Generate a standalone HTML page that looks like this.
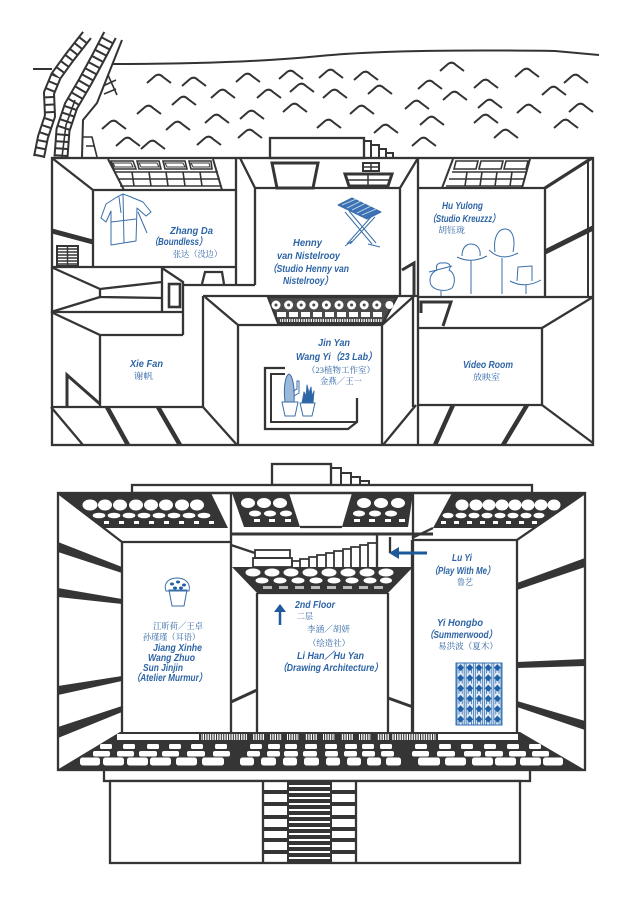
<!DOCTYPE html>
<html><head><meta charset="utf-8">
<style>
html,body{margin:0;padding:0;background:#fff;}
svg{display:block}
.t{font-family:"Liberation Sans",sans-serif;font-style:italic;font-weight:bold;font-size:10px;fill:#2d64a5}
.c{font-family:"Liberation Serif","Noto Serif CJK SC",serif;font-size:8.5px;fill:#2d64a5}
</style></head>
<body>
<svg xmlns="http://www.w3.org/2000/svg" width="640" height="903" viewBox="0 0 640 903">
<defs>
<path id="w" d="M-12,4 L-4,-3 Q0,-6 4,-2 L12,4" fill="none" stroke="#333" stroke-width="2"/>
<pattern id="hat" width="2.4" height="10" patternUnits="userSpaceOnUse"><rect width="2.4" height="10" fill="#fff"/><rect width="1.1" height="10" fill="#333"/></pattern>
<pattern id="dia" x="456" y="663" width="9.2" height="10.3" patternUnits="userSpaceOnUse">
<rect width="9.2" height="10.3" fill="#e6eef8"/>
<path d="M1,0 V10.3 M3,5 V10.3 M6.2,5 V10.3 M8.2,0 V10.3" stroke="#2f6db0" stroke-width="0.8"/>
<path d="M4.6,1 L8,4.6 L4.6,8.2 L1.2,4.6Z" fill="#1f5fa3"/>
</pattern>
</defs>
<rect width="640" height="903" fill="#fff"/>

<!-- horizon -->
<g fill="none" stroke="#333" stroke-width="2">
<path d="M33,69 L52,69"/>
<path d="M113,64 C180,64 260,62 320,56 S480,50 555,51 L599,55"/>
</g>
<!-- waves -->
<g>
<use href="#w" x="159" y="79"/><use href="#w" x="194" y="82"/><use href="#w" x="248" y="78"/><use href="#w" x="291" y="75"/><use href="#w" x="331" y="74"/><use href="#w" x="366" y="76"/><use href="#w" x="452" y="67"/><use href="#w" x="527" y="73"/><use href="#w" x="576" y="79"/>
<use href="#w" x="223" y="94"/><use href="#w" x="269" y="94"/><use href="#w" x="302" y="88"/><use href="#w" x="335" y="94"/><use href="#w" x="380" y="90"/><use href="#w" x="430" y="85"/><use href="#w" x="486" y="84"/><use href="#w" x="554" y="91"/>
<use href="#w" x="149" y="110"/><use href="#w" x="184" y="101"/><use href="#w" x="295" y="108"/><use href="#w" x="362" y="110"/><use href="#w" x="417" y="105"/><use href="#w" x="455" y="96"/><use href="#w" x="490" y="104"/><use href="#w" x="529" y="109"/><use href="#w" x="581" y="108"/>
<use href="#w" x="114" y="125"/><use href="#w" x="178" y="126"/><use href="#w" x="217" y="119"/><use href="#w" x="252" y="115"/><use href="#w" x="329" y="124"/><use href="#w" x="386" y="129"/><use href="#w" x="432" y="121"/><use href="#w" x="486" y="119"/><use href="#w" x="566" y="124"/>
<use href="#w" x="128" y="142"/><use href="#w" x="153" y="145"/><use href="#w" x="209" y="141"/><use href="#w" x="250" y="134"/><use href="#w" x="424" y="142"/><use href="#w" x="506" y="134"/>
</g>
<!-- tree / ladders -->
<g fill="none" stroke-linejoin="round">
<path d="M87,35 L69,58 L56,76 L49,93 L50,116 L43,137 L39,157" stroke="#333" stroke-width="12"/>
<path d="M87,35 L69,58 L56,76 L49,93 L50,116 L43,137 L39,157" stroke="#fff" stroke-width="8" stroke-dasharray="5.5 2"/>
<path d="M110,35 L98,58 L85,82 L71,106 L63,130 L61,157" stroke="#333" stroke-width="15"/>
<path d="M110,35 L98,58 L85,82 L71,106 L63,130 L61,157" stroke="#fff" stroke-width="11" stroke-dasharray="5 2"/>
<path d="M75,100 L66,125 L62,157" stroke="#333" stroke-width="1.6"/>
<path d="M122,40 L97,103 L83,120 L82,157" stroke="#333" stroke-width="2"/>
<path d="M108,75 L117,95 M103,86 L116,80 M104,94 L116,89 M83,137 L92,137 L97,157 M86,146 L95,146" stroke="#333" stroke-width="1.6"/>
</g>

<!-- ============ TOP FLOOR ============ -->
<g fill="none" stroke="#353535" stroke-width="2.3" stroke-linejoin="miter">
<rect x="270" y="138" width="94" height="20" fill="#fff"/>
<path d="M364,141 H371 V158 M371,145 H379 V158 M379,149 H386 V158 M386,153 H393 V158" stroke-width="2"/>
<rect x="52" y="158" width="541" height="287"/>
<!-- left room -->
<path d="M52,158 L93,190 H236"/>
<path d="M93,190 V267"/>
<path d="M52,267 H236"/>
<path d="M236,158 V285"/>
<path d="M52,231 L93,242" stroke-width="5"/>
<rect x="57" y="246" width="21" height="20" stroke-width="2"/>
<path d="M58,249 H77 M58,252 H77 M58,255 H77 M58,258 H77 M58,261 H77 M58,264 H77 M67.5,246 V266" stroke-width="1.4"/>
<!-- left skylight -->
<path d="M108,159 L124,190 M213,159 L222,190" stroke-width="2"/>
<g stroke-width="1.6">
<path d="M111,161 H133 L136,169 H114 Z M137,161 H159 L161,169 H139 Z M163,161 H185 L187,169 H165 Z M189,161 H211 L212,169 H191 Z"/>
<path d="M113,163 H131 L133,167 H115 Z M139,163 H157 L159,167 H141 Z M165,163 H183 L185,167 H167 Z M191,163 H209 L210,167 H193 Z" stroke-width="1"/>
<path d="M115,172 H218 M118,179 H220 M120,186 H221"/>
<path d="M132,172 L134,186 M149,172 L151,186 M166,172 L168,186 M183,172 L185,186 M200,172 L202,186"/>
</g>
<!-- Henny -->
<path d="M240,158 L255,188 H400"/>
<path d="M255,188 V285"/>
<path d="M183,285 H255"/>
<path d="M418,158 L400,188 V296"/>
<path d="M418,158 V445"/>
<path d="M272,163 H318 L313,188 H277 Z" stroke-width="3"/>
<rect x="363" y="163" width="16" height="8" stroke-width="2"/>
<path d="M371,163 V171 M363,167 H379" stroke-width="1.5"/>
<path d="M345,174 H392 L388,186 H349 Z" stroke-width="3"/>
<path d="M347,180 H390 M368,174 V186" stroke-width="1.5"/>
<path d="M402,270 L414,263 V296" stroke-width="3"/>
<!-- Hu room -->
<path d="M592,158 L545,188" stroke-width="3.2"/>
<path d="M545,188 H418"/>
<path d="M545,188 V297"/>
<path d="M588,160 V297" stroke-width="2"/>
<path d="M418,297 H593"/>
<path d="M545,252 L593,228" stroke-width="5"/>
<!-- right skylight -->
<path d="M453,159 L442,188 M530,159 L522,188" stroke-width="2"/>
<g stroke-width="1.6">
<path d="M456,161 H478 L476,169 H454 Z M481,161 H503 L501,169 H479 Z M506,161 H528 L526,169 H504 Z"/>
<path d="M452,172 H527 M449,179 H525 M446,186 H523"/>
<path d="M467,172 L465,186 M482,172 L480,186 M497,172 L495,186 M512,172 L510,186"/>
</g>
<!-- corridor left -->
<path d="M51,267 L100,289 L162,282"/>
<path d="M100,289 V297 L162,298"/>
<path d="M100,297 L51,312"/>
<path d="M51,312 H183"/>
<path d="M51,312 L100,335 H183"/>
<path d="M162,267 V312"/>
<path d="M162,268 L183,282 V335"/>
<rect x="169" y="284" width="11" height="23" stroke-width="2.6"/>
<path d="M202,284 L205,272 H222 L224,284"/>
<path d="M203,296 H418"/>
<path d="M203,296 V407"/>
<!-- Xie Fan -->
<path d="M100,335 V407"/>
<path d="M51,407 H203"/>
<path d="M67,407 V375 L100,404" stroke-width="3"/>
<path d="M51,407 L83,445 M203,407 L237,445"/>
<path d="M107,407 L128,445 M158,407 L180,445" stroke-width="4.5"/>
<!-- Jin Yan -->
<path d="M205,297 L238,325 H382"/>
<path d="M238,325 V445"/>
<path d="M413,297 L382,325 V445"/>
<path d="M413,297 V407 M416,405 L383,445"/>
<!-- lattice -->
<path d="M268,297 H397 L383,323 H278 Z" fill="#4a4a4a"/>
<!-- plant shelf -->
<path d="M285,368 H265 V429 H348 L357,422 V398" stroke-width="2.3"/>
<path d="M285,374 H271 V422 H357" stroke-width="2"/>
<!-- Video -->
<path d="M418,328 H542 V405 H418"/>
<path d="M593,297 L542,328"/>
<path d="M542,405 L593,443"/>
<path d="M453,405 L435,445 M527,405 L503,445" stroke-width="4.5"/>
<path d="M421,313 V302 H451 L443,326" stroke-width="3"/>
</g>
<!-- lattice detail -->
<g fill="#fff">
<circle cx="276" cy="305" r="4.5"/><circle cx="288.6" cy="305" r="4.5"/><circle cx="301.2" cy="305" r="4.5"/><circle cx="313.8" cy="305" r="4.5"/><circle cx="326.4" cy="305" r="4.5"/><circle cx="339" cy="305" r="4.5"/><circle cx="351.6" cy="305" r="4.5"/><circle cx="364.2" cy="305" r="4.5"/><circle cx="376.8" cy="305" r="4.5"/><circle cx="389.4" cy="305" r="4"/>
<rect x="277" y="312" width="9" height="5"/><rect x="289" y="312" width="9" height="5"/><rect x="301" y="312" width="9" height="5"/><rect x="313" y="312" width="9" height="5"/><rect x="325" y="312" width="9" height="5"/><rect x="337" y="312" width="9" height="5"/><rect x="349" y="312" width="9" height="5"/><rect x="361" y="312" width="9" height="5"/><rect x="373" y="312" width="9" height="5"/>
</g>
<g fill="#4a4a4a">
<circle cx="276" cy="305" r="1.5"/><circle cx="288.6" cy="305" r="1.5"/><circle cx="301.2" cy="305" r="1.5"/><circle cx="313.8" cy="305" r="1.5"/><circle cx="326.4" cy="305" r="1.5"/><circle cx="339" cy="305" r="1.5"/><circle cx="351.6" cy="305" r="1.5"/><circle cx="364.2" cy="305" r="1.5"/><circle cx="376.8" cy="305" r="1.5"/>
</g>
<rect x="280" y="319" width="102" height="3" fill="url(#hat)"/>

<!-- top floor icons -->
<g fill="none" stroke="#3a6ea8" stroke-width="1" stroke-linejoin="round">
<path d="M117,197 L123,194 L131,197 L143,202 L151,212 L146,216 L137,208 L136,241 L111,245 L111,211 L106,222 L101,218 L106,204 Z"/>
<path d="M123,194 L124,243 M111,222 L136,219 M119,197 L121,213 M138,212 L147,233"/>
<path d="M338,205 L352,198 L381,212 L367,219 Z" fill="#3d73b5"/>
<path d="M342,205 L356,199 M347,208 L361,201 M352,210 L366,203 M357,213 L371,206 M362,215 L376,209" stroke="#cfe0f2" stroke-width="0.8"/>
<path d="M345,212 L372,244 M349,211 L376,243 M375,217 L350,244 M371,217 L347,244 M345,246 L352,241 M368,244 L380,247"/>
<path d="M431,285 C428,278 432,272 437,270 C435,266 438,262 443,263 C449,262 452,266 449,270 C455,273 456,282 452,288 C446,292 435,291 431,285 Z"/>
<path d="M429,272 L452,266 M441,291 V296"/>
<path d="M462,256 C462,248 466,244 471,244 C477,244 481,249 480,256"/>
<path d="M457,257 Q471,264 487,256 M471,260 V294"/>
<path d="M495,252 C493,238 498,229 505,229 C512,229 516,238 513,252"/>
<path d="M489,250 Q501,262 518,253 M502,258 V294"/>
<path d="M517,281 L518,267 L532,266 L532,281"/>
<path d="M510,281 Q525,289 541,280 M526,285 V294"/>
<path d="M282,402 H298 L295,416 H285 Z M300,403 H315 L312,416 H303 Z"/>
<path d="M285,402 C283,385 286,375 289,374 C292,375 295,385 294,402 Z" fill="#9bb8d8"/>
<path d="M293,391 L297,389 V381 L299,381 V393 L294,396"/>
<path d="M302,403 L304,392 L306,396 L307,385 L309,393 L311,387 L312,396 L314,391 L313,403 Z" fill="#2d64a5"/>
</g>

<!-- top floor labels -->
<text class="t" x="170" y="234" textLength="43" lengthAdjust="spacingAndGlyphs">Zhang Da</text>
<text class="t" x="150" y="245" textLength="57" lengthAdjust="spacingAndGlyphs">（Boundless）</text>
<text class="c" x="173" y="257" textLength="49" lengthAdjust="spacingAndGlyphs">张达（没边）</text>
<text class="t" x="293" y="246" textLength="29" lengthAdjust="spacingAndGlyphs">Henny</text>
<text class="t" x="277" y="259" textLength="63" lengthAdjust="spacingAndGlyphs">van Nistelrooy</text>
<text class="t" x="268" y="272" textLength="81" lengthAdjust="spacingAndGlyphs">（Studio Henny van</text>
<text class="t" x="283" y="284" textLength="50" lengthAdjust="spacingAndGlyphs">Nistelrooy）</text>
<text class="t" x="442" y="209" textLength="41" lengthAdjust="spacingAndGlyphs">Hu Yulong</text>
<text class="t" x="428" y="222" textLength="72" lengthAdjust="spacingAndGlyphs">（Studio Kreuzzz）</text>
<text class="c" x="438" y="233" textLength="27" lengthAdjust="spacingAndGlyphs">胡钰珑</text>
<text class="t" x="318" y="346" textLength="32" lengthAdjust="spacingAndGlyphs">Jin Yan</text>
<text class="t" x="296" y="360" textLength="81" lengthAdjust="spacingAndGlyphs">Wang Yi（23 Lab）</text>
<text class="c" x="307" y="373" textLength="68" lengthAdjust="spacingAndGlyphs">（23植物工作室）</text>
<text class="c" x="320" y="384" textLength="42" lengthAdjust="spacingAndGlyphs">金燕／王一</text>
<text class="t" x="130" y="367" textLength="33" lengthAdjust="spacingAndGlyphs">Xie Fan</text>
<text class="c" x="134" y="379" textLength="19" lengthAdjust="spacingAndGlyphs">谢帆</text>
<text class="t" x="463" y="368" textLength="50" lengthAdjust="spacingAndGlyphs">Video Room</text>
<text class="c" x="473" y="380" textLength="27" lengthAdjust="spacingAndGlyphs">放映室</text>

<!-- ============ LOWER FLOOR ============ -->
<g fill="none" stroke="#353535" stroke-width="2.3">
<rect x="272" y="464" width="59" height="21" fill="#fff"/>
<path d="M331,468 H341 V485 M341,473 H351 V485 M351,477 H360 V485 M360,481 H369 V485" stroke-width="2"/>
<rect x="132" y="485" width="400" height="8" fill="#fff"/>
</g>
<g fill="#353535">
<path d="M58,493 H211 L228,528 H104 Z"/>
<path d="M452,493 H585 L535,528 H433 Z"/>
<path d="M232,493 H289 L300,527 H244 Z"/>
<path d="M352,493 H413 L408,527 H342 Z"/>
<path d="M232,567 H413 L388,593 H257 Z"/>
<path d="M58,542 L122,567 V573 L58,552 Z"/>
<path d="M58,588 L122,599 V604 L58,597 Z"/>
<path d="M58,686 L122,676 V681 L58,695 Z"/>
<path d="M58,727 L122,706 V712 L58,738 Z"/>
<path d="M517,583 L585,558 V567 L517,590 Z"/>
<path d="M517,662 L585,659 V666 L517,668 Z"/>
<path d="M517,701 L585,721 V730 L517,707 Z"/>
<path d="M120,732 H520 L585,770 H57 Z"/>
</g>
<g fill="#fff">
<ellipse cx="90" cy="505" rx="7.5" ry="5.5"/><ellipse cx="105" cy="505" rx="7" ry="5.5"/><ellipse cx="120" cy="505" rx="7" ry="5.5"/><ellipse cx="136" cy="505" rx="7" ry="5.5"/><ellipse cx="151" cy="505" rx="7" ry="5.5"/><ellipse cx="166" cy="505" rx="7" ry="5.5"/><ellipse cx="182" cy="505" rx="7" ry="5.5"/><ellipse cx="197" cy="505" rx="7" ry="5.5"/>
<ellipse cx="99" cy="515.5" rx="6.3" ry="2.8"/><ellipse cx="114" cy="515.5" rx="6.3" ry="2.8"/><ellipse cx="129" cy="515.5" rx="6.3" ry="2.8"/><ellipse cx="144" cy="515.5" rx="6.3" ry="2.8"/><ellipse cx="159" cy="515.5" rx="6.3" ry="2.8"/><ellipse cx="174" cy="515.5" rx="6.3" ry="2.8"/><ellipse cx="189" cy="515.5" rx="6.3" ry="2.8"/><ellipse cx="204" cy="515.5" rx="6.3" ry="2.8"/>
<rect x="104" y="521" width="5" height="3"/><rect x="119" y="521" width="5" height="3"/><rect x="134" y="521" width="5" height="3"/><rect x="149" y="521" width="5" height="3"/><rect x="164" y="521" width="5" height="3"/><rect x="179" y="521" width="5" height="3"/><rect x="194" y="521" width="5" height="3"/><rect x="209" y="521" width="5" height="3"/>
<ellipse cx="462" cy="505" rx="6.5" ry="5.5"/><ellipse cx="476" cy="505" rx="6.5" ry="5.5"/><ellipse cx="489" cy="505" rx="6.5" ry="5.5"/><ellipse cx="502" cy="505" rx="6.5" ry="5.5"/><ellipse cx="515" cy="505" rx="6.5" ry="5.5"/><ellipse cx="528" cy="505" rx="6.5" ry="5.5"/><ellipse cx="541" cy="505" rx="6.5" ry="5.5"/><ellipse cx="554" cy="505" rx="6.5" ry="5.5"/>
<ellipse cx="448" cy="515.5" rx="5.5" ry="2.8"/><ellipse cx="461" cy="515.5" rx="5.5" ry="2.8"/><ellipse cx="474" cy="515.5" rx="5.5" ry="2.8"/><ellipse cx="487" cy="515.5" rx="5.5" ry="2.8"/><ellipse cx="500" cy="515.5" rx="5.5" ry="2.8"/><ellipse cx="513" cy="515.5" rx="5.5" ry="2.8"/><ellipse cx="526" cy="515.5" rx="5.5" ry="2.8"/><ellipse cx="539" cy="515.5" rx="5.5" ry="2.8"/>
<rect x="441" y="521" width="5" height="3"/><rect x="454" y="521" width="5" height="3"/><rect x="467" y="521" width="5" height="3"/><rect x="480" y="521" width="5" height="3"/><rect x="493" y="521" width="5" height="3"/><rect x="506" y="521" width="5" height="3"/><rect x="519" y="521" width="5" height="3"/><rect x="532" y="521" width="5" height="3"/>
<ellipse cx="248" cy="503" rx="7" ry="5"/><ellipse cx="264" cy="503" rx="7" ry="5"/><ellipse cx="280" cy="503" rx="7" ry="5"/>
<ellipse cx="255" cy="513.5" rx="6" ry="3"/><ellipse cx="270" cy="513.5" rx="6" ry="3"/><ellipse cx="286" cy="513.5" rx="6" ry="3"/>
<rect x="254" y="519" width="6" height="3"/><rect x="269" y="519" width="6" height="3"/><rect x="285" y="519" width="6" height="3"/>
<ellipse cx="364" cy="503" rx="7" ry="5"/><ellipse cx="381" cy="503" rx="7" ry="5"/><ellipse cx="398" cy="503" rx="7" ry="5"/>
<ellipse cx="359" cy="513.5" rx="6" ry="3"/><ellipse cx="375" cy="513.5" rx="6" ry="3"/><ellipse cx="391" cy="513.5" rx="6" ry="3"/>
<rect x="354" y="519" width="6" height="3"/><rect x="369" y="519" width="6" height="3"/><rect x="385" y="519" width="6" height="3"/><rect x="399" y="519" width="6" height="3"/>
<ellipse cx="253" cy="572.5" rx="7.5" ry="4"/><ellipse cx="272" cy="572.5" rx="7.5" ry="4"/><ellipse cx="291" cy="572.5" rx="7.5" ry="4"/><ellipse cx="310" cy="572.5" rx="7.5" ry="4"/><ellipse cx="329" cy="572.5" rx="7.5" ry="4"/><ellipse cx="348" cy="572.5" rx="7.5" ry="4"/><ellipse cx="367" cy="572.5" rx="7.5" ry="4"/><ellipse cx="386" cy="572.5" rx="7.5" ry="4"/>
<ellipse cx="262" cy="580.5" rx="6.5" ry="3"/><ellipse cx="280" cy="580.5" rx="6.5" ry="3"/><ellipse cx="298" cy="580.5" rx="6.5" ry="3"/><ellipse cx="316" cy="580.5" rx="6.5" ry="3"/><ellipse cx="334" cy="580.5" rx="6.5" ry="3"/><ellipse cx="352" cy="580.5" rx="6.5" ry="3"/><ellipse cx="370" cy="580.5" rx="6.5" ry="3"/><ellipse cx="386" cy="580.5" rx="6" ry="3"/>
</g>
<g fill="#bbb">
<rect x="263" y="586" width="9" height="3"/><rect x="279" y="586" width="9" height="3"/><rect x="295" y="586" width="9" height="3"/><rect x="311" y="586" width="9" height="3"/><rect x="327" y="586" width="9" height="3"/><rect x="343" y="586" width="9" height="3"/><rect x="359" y="586" width="9" height="3"/><rect x="374" y="586" width="9" height="3"/>
</g>

<g fill="none" stroke="#353535" stroke-width="2.3">
<rect x="58" y="493" width="527" height="277"/>
<path d="M58,493 L122,542 H231"/>
<path d="M122,542 V732"/>
<path d="M231,493 V732"/>
<path d="M413,493 V732"/>
<path d="M585,493 L517,540 H412"/>
<path d="M412,540 V732"/>
<path d="M517,540 V732"/>
<path d="M433,528 L412,538"/>
<path d="M300,527 H342"/>
<path d="M231,534 H433" stroke-width="3"/>
<path d="M231,545 L255,553"/>
<rect x="255" y="550" width="35" height="8" stroke-width="1.8"/>
<rect x="253" y="558" width="39" height="9" stroke-width="1.8"/>
<path d="M292,567 V561 H300 V559 H309 V557 H317 V555 H326 V553 H334 V551 H343 V549 H351 V547 H360 V545 H368 V543 H377 V567 M300,561 V567 M309,559 V567 M317,557 V567 M326,555 V567 M334,553 V567 M343,551 V567 M351,549 V567 M360,547 V567 M368,545 V567" stroke-width="1.8"/>
<path d="M377,534 V567"/>
<path d="M390,537 V553"/>
<path d="M257,593 V732 M388,593 V732 M257,593 H388"/>
<path d="M231,702 L257,690 M388,698 L413,707" stroke-width="3"/>
</g>

<!-- floor cells -->
<g fill="#fff">
<rect x="117" y="734" width="82" height="6"/>
<rect x="438" y="734" width="80" height="6"/>
</g>
<g fill="url(#hat)">
<rect x="201" y="734" width="46" height="6"/>
<rect x="253" y="734" width="12" height="6"/><rect x="270" y="734" width="12" height="6"/><rect x="287" y="734" width="12" height="6"/><rect x="305" y="734" width="12" height="6"/><rect x="323" y="734" width="12" height="6"/><rect x="341" y="734" width="12" height="6"/><rect x="359" y="734" width="12" height="6"/><rect x="377" y="734" width="12" height="6"/>
<rect x="392" y="734" width="44" height="6"/>
</g>
<g fill="#fff">
<rect x="100" y="744" width="12" height="5" rx="1.5"/><rect x="123" y="744" width="12" height="5" rx="1.5"/><rect x="147" y="744" width="12" height="5" rx="1.5"/><rect x="169" y="744" width="12" height="5" rx="1.5"/><rect x="191" y="744" width="12" height="5" rx="1.5"/><rect x="215" y="744" width="12" height="5" rx="1.5"/>
<rect x="250" y="744" width="12" height="5" rx="1.5"/><rect x="268" y="744" width="12" height="5" rx="1.5"/><rect x="285" y="744" width="12" height="5" rx="1.5"/><rect x="305" y="744" width="12" height="5" rx="1.5"/><rect x="325" y="744" width="12" height="5" rx="1.5"/><rect x="345" y="744" width="12" height="5" rx="1.5"/><rect x="362" y="744" width="12" height="5" rx="1.5"/><rect x="380" y="744" width="12" height="5" rx="1.5"/>
<rect x="415" y="744" width="12" height="5" rx="1.5"/><rect x="439" y="744" width="12" height="5" rx="1.5"/><rect x="461" y="744" width="12" height="5" rx="1.5"/><rect x="484" y="744" width="12" height="5" rx="1.5"/><rect x="507" y="744" width="12" height="5" rx="1.5"/><rect x="529" y="744" width="12" height="5" rx="1.5"/>
<rect x="93" y="751" width="17" height="5.5" rx="2"/><rect x="117" y="751" width="17" height="5.5" rx="2"/><rect x="139" y="751" width="18" height="5.5" rx="2"/><rect x="162" y="751" width="17" height="5.5" rx="2"/><rect x="187" y="751" width="18" height="5.5" rx="2"/><rect x="213" y="751" width="17" height="5.5" rx="2"/>
<rect x="247" y="751" width="13" height="5.5" rx="2"/><rect x="267" y="751" width="13" height="5.5" rx="2"/><rect x="284" y="751" width="14" height="5.5" rx="2"/><rect x="303" y="751" width="14" height="5.5" rx="2"/><rect x="325" y="751" width="13" height="5.5" rx="2"/><rect x="344" y="751" width="13" height="5.5" rx="2"/><rect x="362" y="751" width="13" height="5.5" rx="2"/><rect x="381" y="751" width="13" height="5.5" rx="2"/>
<rect x="412" y="751" width="17" height="5.5" rx="2"/><rect x="437" y="751" width="18" height="5.5" rx="2"/><rect x="464" y="751" width="17" height="5.5" rx="2"/><rect x="485" y="751" width="18" height="5.5" rx="2"/><rect x="509" y="751" width="17" height="5.5" rx="2"/><rect x="532" y="751" width="17" height="5.5" rx="2"/>
<rect x="80" y="757.5" width="20" height="8" rx="2.5"/><rect x="103" y="757.5" width="21" height="8" rx="2.5"/><rect x="127" y="757.5" width="21" height="8" rx="2.5"/><rect x="150" y="757.5" width="21" height="8" rx="2.5"/><rect x="176" y="757.5" width="21" height="8" rx="2.5"/><rect x="202" y="757.5" width="22" height="8" rx="2.5"/>
<rect x="240" y="757.5" width="14" height="8" rx="2.5"/><rect x="261" y="757.5" width="15" height="8" rx="2.5"/><rect x="283" y="757.5" width="14" height="8" rx="2.5"/><rect x="304" y="757.5" width="15" height="8" rx="2.5"/><rect x="326" y="757.5" width="14" height="8" rx="2.5"/><rect x="347" y="757.5" width="14" height="8" rx="2.5"/><rect x="367" y="757.5" width="14" height="8" rx="2.5"/><rect x="386" y="757.5" width="15" height="8" rx="2.5"/>
<rect x="418" y="757.5" width="22" height="8" rx="2.5"/><rect x="445" y="757.5" width="21" height="8" rx="2.5"/><rect x="472" y="757.5" width="21" height="8" rx="2.5"/><rect x="495" y="757.5" width="21" height="8" rx="2.5"/><rect x="520" y="757.5" width="21" height="8" rx="2.5"/><rect x="543" y="757.5" width="20" height="8" rx="2.5"/>
</g>

<!-- base -->
<g fill="none" stroke="#353535" stroke-width="2.3">
<rect x="104" y="770" width="426" height="11" fill="#fff"/>
<rect x="110" y="781" width="410" height="82" fill="#fff"/>
<path d="M263,781 V863 M356,781 V863"/>
</g>
<rect x="287" y="781" width="45" height="82" fill="#353535"/>
<g fill="#fff">
<rect x="289" y="785" width="41" height="2"/><rect x="289" y="791" width="41" height="2"/><rect x="289" y="797" width="41" height="2"/><rect x="289" y="803" width="41" height="2"/><rect x="289" y="809" width="41" height="2"/><rect x="289" y="815" width="41" height="2"/><rect x="289" y="821" width="41" height="2"/><rect x="289" y="827" width="41" height="2"/><rect x="289" y="833" width="41" height="2"/><rect x="289" y="839" width="41" height="2"/><rect x="289" y="845" width="41" height="2"/><rect x="289" y="851" width="41" height="2"/><rect x="289" y="857" width="41" height="2"/>
</g>
<g fill="#353535">
<rect x="263" y="790" width="24" height="4"/><rect x="263" y="802" width="24" height="4"/><rect x="263" y="815" width="24" height="4"/><rect x="263" y="827" width="24" height="4"/><rect x="263" y="838" width="24" height="4"/><rect x="263" y="850" width="24" height="4"/>
<rect x="332" y="790" width="24" height="4"/><rect x="332" y="802" width="24" height="4"/><rect x="332" y="815" width="24" height="4"/><rect x="332" y="827" width="24" height="4"/><rect x="332" y="838" width="24" height="4"/><rect x="332" y="850" width="24" height="4"/>
</g>

<!-- arrows -->
<g fill="#1d5a9b" stroke="#1d5a9b">
<path d="M280,625 V611" stroke-width="2.5" fill="none"/>
<path d="M274,612 L286,612 L280,604 Z" stroke="none"/>
<path d="M427,553 H397" stroke-width="3" fill="none"/>
<path d="M399,547 L399,559 L389,553 Z" stroke="none"/>
</g>

<!-- lower icons -->
<g fill="none" stroke="#3a6ea8" stroke-width="1">
<path d="M169,590 L187,590 L184,606 L172,606 Z"/>
<path d="M166,591 C163,583 169,578 177,578 C185,578 191,583 189,591 Z"/>
</g>
<g fill="#1f5fa3">
<ellipse cx="172" cy="584" rx="2" ry="1.5"/><ellipse cx="178" cy="582" rx="2" ry="1.5"/><ellipse cx="184" cy="585" rx="2" ry="1.5"/><ellipse cx="175" cy="588" rx="2" ry="1.5"/><ellipse cx="181" cy="588" rx="2" ry="1.5"/>
</g>
<rect x="456" y="663" width="46" height="62" fill="url(#dia)" stroke="#2f6db0" stroke-width="1"/>

<!-- lower labels -->
<text class="c" x="153" y="629" textLength="50" lengthAdjust="spacingAndGlyphs">江昕荷／王卓</text>
<text class="c" x="143" y="640" textLength="57" lengthAdjust="spacingAndGlyphs">孙瑾瑾（耳语）</text>
<text class="t" x="153" y="651" textLength="49" lengthAdjust="spacingAndGlyphs">Jiang Xinhe</text>
<text class="t" x="148" y="661" textLength="47" lengthAdjust="spacingAndGlyphs">Wang Zhuo</text>
<text class="t" x="143" y="671" textLength="40" lengthAdjust="spacingAndGlyphs">Sun Jinjin</text>
<text class="t" x="132" y="681" textLength="75" lengthAdjust="spacingAndGlyphs">（Atelier Murmur）</text>
<text class="t" x="295" y="608" textLength="40" lengthAdjust="spacingAndGlyphs">2nd Floor</text>
<text class="c" x="297" y="619" textLength="16" lengthAdjust="spacingAndGlyphs">二层</text>
<text class="c" x="307" y="632" textLength="43" lengthAdjust="spacingAndGlyphs">李涵／胡妍</text>
<text class="c" x="308" y="646" textLength="42" lengthAdjust="spacingAndGlyphs">（绘造社）</text>
<text class="t" x="297" y="659" textLength="67" lengthAdjust="spacingAndGlyphs">Li Han／Hu Yan</text>
<text class="t" x="278" y="671" textLength="105" lengthAdjust="spacingAndGlyphs">（Drawing Architecture）</text>
<text class="t" x="452" y="561" textLength="20" lengthAdjust="spacingAndGlyphs">Lu Yi</text>
<text class="t" x="430" y="574" textLength="65" lengthAdjust="spacingAndGlyphs">（Play With Me）</text>
<text class="c" x="457" y="585" textLength="16" lengthAdjust="spacingAndGlyphs">鲁艺</text>
<text class="t" x="437" y="626" textLength="46" lengthAdjust="spacingAndGlyphs">Yi Hongbo</text>
<text class="t" x="425" y="638" textLength="72" lengthAdjust="spacingAndGlyphs">（Summerwood）</text>
<text class="c" x="438" y="649" textLength="60" lengthAdjust="spacingAndGlyphs">易洪波（夏木）</text>
</svg>
</body></html>
